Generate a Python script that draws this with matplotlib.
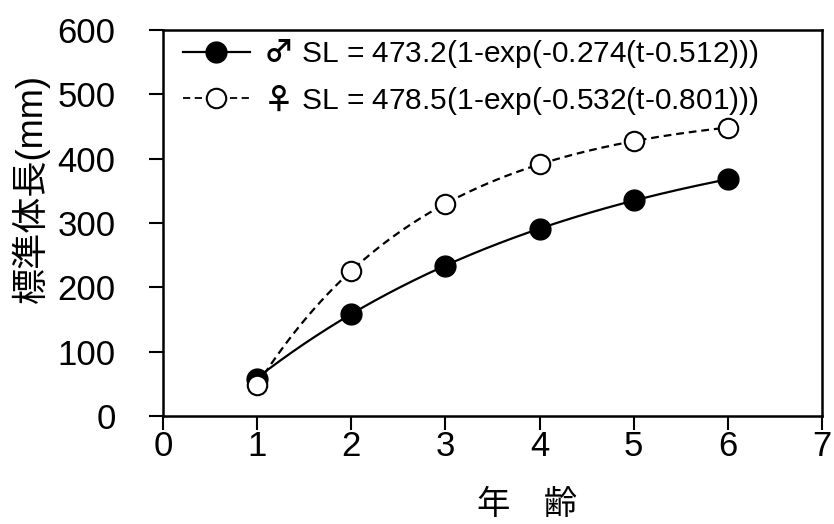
import numpy as np
import matplotlib.pyplot as plt

# data
age = [1, 2, 3, 4, 5, 6]
male_sl = [58, 158, 233, 291, 335, 368]
female_sl = [48, 225, 330, 392, 428, 448]

# von Bertalanffy parameters shown in the legend
male_par = [473.2, 0.274, 0.512]
female_par = [478.5, 0.532, 0.801]

labels = [r'$\mathbf{♂}$ SL = 473.2(1-exp(-0.274(t-0.512)))',
          r'$\mathbf{♀}$ SL = 478.5(1-exp(-0.532(t-0.801)))']

plt.rcParams['font.family'] = ['Liberation Sans', 'Noto Sans CJK JP', 'DejaVu Sans']
# big sex symbols come from the CJK font through mathtext
plt.rcParams['mathtext.fontset'] = 'custom'
plt.rcParams['mathtext.rm'] = 'Noto Sans CJK JP'
plt.rcParams['mathtext.it'] = 'Noto Sans CJK JP'
plt.rcParams['mathtext.bf'] = 'Noto Sans CJK JP:bold'

fig = plt.figure(figsize=(8.34, 5.24), dpi=100)
ax = fig.add_axes([0.1954, 0.2061, 0.7902, 0.7366])

t = np.linspace(age[0], age[-1], 200)
m_curve = male_par[0] * (1 - np.exp(-male_par[1] * (t - male_par[2])))
f_curve = female_par[0] * (1 - np.exp(-female_par[1] * (t - female_par[2])))

ax.plot(t, m_curve, color='black', lw=1.6)
ax.plot(t, f_curve, color='black', lw=1.6, ls=(0, (3.5, 2.2)))
ax.plot(age, male_sl, 'o', color='black', ms=15, zorder=3)
ax.plot(age, female_sl, 'o', mfc='white', mec='black', mew=1.5, ms=14, zorder=3)

# legend handles
h1, = ax.plot([], [], '-o', color='black', lw=1.6, ms=15)
h2, = ax.plot([], [], 'o', ls=(0, (4, 2.5)), color='black', lw=1.3,
              mfc='white', mew=1.5, ms=14)
ax.legend([h1, h2], labels,
          loc='upper left', bbox_to_anchor=(0.012, 1.012), borderaxespad=0,
          frameon=False, fontsize=21.5, handlelength=2.25, handletextpad=0.45,
          labelspacing=0.38)

ax.set_xlim(0, 7)
ax.set_ylim(0, 600)
ax.set_xticks(range(0, 8))
ax.set_yticks(range(0, 601, 100))
ax.tick_params(axis='both', direction='out', length=10, width=1.5, labelsize=25)
ax.tick_params(axis='x', pad=0)
ax.tick_params(axis='y', pad=24)
for s in ax.spines.values():
    s.set_linewidth(1.8)

ax.set_xlabel('年\u3000齢', fontsize=24, family=['Noto Sans CJK JP'])
ax.xaxis.set_label_coords(0.553, -0.185)
ax.set_ylabel('標準体長(mm)', fontsize=26, family=['Liberation Sans', 'Noto Sans CJK JP'])
ax.yaxis.set_label_coords(-0.172, 0.59)

fig.savefig('out.png', dpi=100)
